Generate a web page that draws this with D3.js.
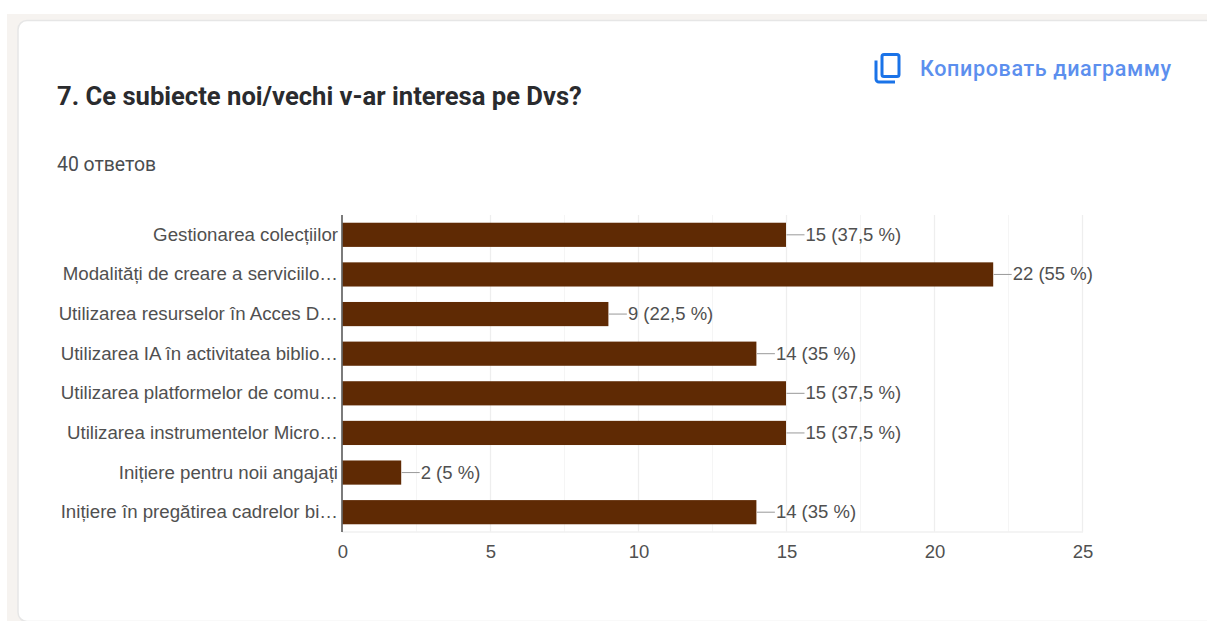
<!DOCTYPE html>
<html><head><meta charset="utf-8">
<script src="https://cdn.jsdelivr.net/npm/d3@7"></script>
<style>html,body{margin:0;padding:0;background:#fff;overflow:hidden}svg{display:block}</style>
</head><body><svg id="c" width="1207" height="621"></svg>
<script>
const title = "7. Ce subiecte noi/vechi v-ar interesa pe Dvs?";
const subtitle = "40 ответов";
const copyLabel = "Копировать диаграмму";
const categories = ["Gestionarea colecțiilor","Modalități de creare a serviciilo…","Utilizarea resurselor în Acces D…","Utilizarea IA în activitatea biblio…","Utilizarea platformelor de comu…","Utilizarea instrumentelor Micro…","Inițiere pentru noii angajați","Inițiere în pregătirea cadrelor bi…"];
const values = [15,22,9,14,15,15,2,14];
const valueLabels = ["15 (37,5 %)","22 (55 %)","9 (22,5 %)","14 (35 %)","15 (37,5 %)","15 (37,5 %)","2 (5 %)","14 (35 %)"];
const majorTicks = [0,5,10,15,20,25];
const minorTicks = [2.5,7.5,12.5,17.5,22.5];

const svg = d3.select("#c");
const font = "Roboto, sans-serif", chartFont = "'Liberation Sans', Arial, sans-serif";
svg.append("rect").attr("x",7).attr("y",14).attr("width",1200).attr("height",607).attr("fill","#f6f3f0");
svg.append("rect").attr("x",18).attr("y",20.5).attr("width",1220).attr("height",601).attr("rx",9)
  .attr("fill","#fff").attr("stroke","#e6e6e6").attr("stroke-width",1.5);

svg.append("text").attr("x",57).attr("y",105).attr("font-family",font).attr("font-weight",700)
  .attr("font-size",25.6).attr("fill","#2a2b2e").text(title);
svg.append("text").attr("x",57).attr("y",171).attr("font-family",font).attr("font-size",19.4)
  .attr("fill","#4a4d50").text(subtitle);

const icon = svg.append("g").attr("fill","none").attr("stroke","#1a73e8").attr("stroke-width",3);
icon.append("rect").attr("x",882).attr("y",54.5).attr("width",17).attr("height",22).attr("rx",2);
icon.append("path").attr("d","M876 60.5V79a3 3 0 0 0 3 3H895");
svg.append("text").attr("x",920).attr("y",76).attr("font-family",font).attr("font-weight",500)
  .attr("font-size",21.6).attr("letter-spacing",0.6).attr("fill","#5c8fee").text(copyLabel);

const x = d3.scaleLinear().domain([0,25]).range([342.5,1082.5]);
const y = d3.scaleBand().domain(categories).range([215,532]).paddingInner(0.39).paddingOuter(0.195);

const gridTop = 215, gridBottom = 532;
svg.append("g").selectAll("line").data(minorTicks).join("line")
  .attr("x1",d=>x(d)).attr("x2",d=>x(d)).attr("y1",gridTop).attr("y2",gridBottom)
  .attr("stroke","#f5f5f5").attr("stroke-width",1);
svg.append("g").selectAll("line").data(majorTicks.slice(1)).join("line")
  .attr("x1",d=>x(d)).attr("x2",d=>x(d)).attr("y1",gridTop).attr("y2",gridBottom)
  .attr("stroke","#eeeeee").attr("stroke-width",1.3);
svg.append("line").attr("x1",342).attr("x2",1083).attr("y1",gridBottom).attr("y2",gridBottom)
  .attr("stroke","#f1f1f1").attr("stroke-width",1.5);

const rows = categories.map((c,i)=>({c,v:values[i],l:valueLabels[i]}));
svg.append("g").selectAll("rect").data(rows).join("rect")
  .attr("x",x(0)).attr("y",d=>y(d.c)).attr("width",d=>x(d.v)-x(0)-0.5).attr("height",y.bandwidth())
  .attr("fill","#5f2a04");
svg.append("g").selectAll("line").data(rows).join("line")
  .attr("x1",d=>x(d.v)).attr("x2",d=>x(d.v)+18).attr("y1",d=>y(d.c)+y.bandwidth()/2).attr("y2",d=>y(d.c)+y.bandwidth()/2)
  .attr("stroke","#999").attr("stroke-width",1);
svg.append("g").selectAll("text").data(rows).join("text")
  .attr("x",d=>x(d.v)+19).attr("y",d=>y(d.c)+y.bandwidth()/2+6)
  .attr("font-family",chartFont).attr("font-size",18.5).attr("fill","#505050").text(d=>d.l);
svg.append("g").selectAll("text").data(rows).join("text")
  .attr("x",338).attr("y",d=>y(d.c)+y.bandwidth()/2+6).attr("text-anchor","end")
  .attr("font-family",chartFont).attr("font-size",18.7).attr("fill","#505050").text(d=>d.c);

svg.append("line").attr("x1",342).attr("x2",342).attr("y1",gridTop).attr("y2",gridBottom)
  .attr("stroke","#444").attr("stroke-width",1.4);

const xAxis = svg.append("g").attr("transform",`translate(0,${gridBottom})`)
  .call(d3.axisBottom(x).tickValues(majorTicks).tickSize(0).tickPadding(13));
xAxis.select(".domain").remove();
xAxis.selectAll("text").attr("font-family",chartFont).attr("font-size",18.5).attr("fill","#505050");
</script></body></html>
